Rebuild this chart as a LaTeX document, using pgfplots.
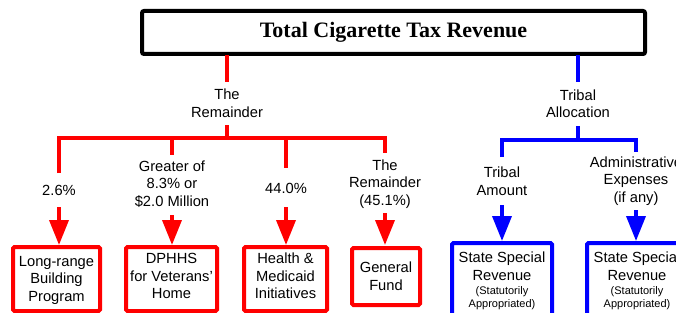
\documentclass[border=0pt]{standalone}
\usepackage{pgfplots}
\pgfplotsset{compat=1.18}
\usepackage{fontspec}
\setmainfont{Liberation Sans}
\newfontfamily\titlefont{Liberation Serif}
\usetikzlibrary{arrows.meta}
\definecolor{fred}{RGB}{255,0,0}
\definecolor{fblue}{RGB}{0,0,255}
\tikzset{lbl/.style={align=center,inner sep=0pt,font=\fontsize{14.7bp}{17.5bp}\selectfont},
  sml/.style={align=center,inner sep=0pt,font=\fontsize{11bp}{12.5bp}\selectfont}}
\begin{document}
\begin{tikzpicture}
\begin{axis}[at={(0,0)},anchor=south west,scale only axis,width=676bp,height=313bp,
  xmin=0,xmax=676,ymin=0,ymax=313,y dir=reverse,axis lines=none,clip=false]
% title box
\addplot[black,line width=4bp,rounded corners=2bp] coordinates {(142,11) (645,11) (645,54) (142,54)} --cycle;
\node[inner sep=0pt,font=\titlefont\bfseries\fontsize{22bp}{24bp}\selectfont] at (axis cs:393.5,32.5) {Total Cigarette Tax Revenue};
% red tree
\addplot[fred,line width=3.7bp] coordinates {(227,55) (227,82)};
\node[lbl] at (axis cs:227,103) {The\\Remainder};
\addplot[fred,line width=3.7bp] coordinates {(227,125) (227,138)};
\addplot[fred,line width=3.7bp,line join=miter] coordinates {(59,173) (59,138) (385,138) (385,153)};
\addplot[fred,line width=3.7bp] coordinates {(172,138) (172,155)};
\addplot[fred,line width=3.7bp] coordinates {(286,138) (286,168)};
\node[lbl] at (axis cs:59,190) {2.6\%};
\node[lbl] at (axis cs:172,184) {Greater of\\8.3\% or\\\$2.0 Million};
\node[lbl] at (axis cs:286,188) {44.0\%};
\node[lbl] at (axis cs:385,184) {The\\Remainder\\(45.1\%)};
\addplot[fred,line width=3.7bp,-{Triangle[width=19bp,length=25bp]}] coordinates {(59,207) (59,245)};
\addplot[fred,line width=3.7bp,-{Triangle[width=19bp,length=25bp]}] coordinates {(172,215) (172,245)};
\addplot[fred,line width=3.7bp,-{Triangle[width=19bp,length=25bp]}] coordinates {(286,207) (286,245)};
\addplot[fred,line width=3.7bp,-{Triangle[width=19bp,length=25bp]}] coordinates {(385,213) (385,245)};
% red boxes
\addplot[fred,line width=4bp,rounded corners=1.5bp] coordinates {(13,247) (100,247) (100,311) (13,311)} --cycle;
\addplot[fred,line width=4bp,rounded corners=1.5bp] coordinates {(126,247) (217,247) (217,311) (126,311)} --cycle;
\addplot[fred,line width=4bp,rounded corners=1.5bp] coordinates {(244,247) (327,247) (327,311) (244,311)} --cycle;
\addplot[fred,line width=4bp,rounded corners=1.5bp] coordinates {(352,248) (420,248) (420,305) (352,305)} --cycle;
\node[lbl] at (axis cs:56.5,280) {Long-range\\Building\\Program};
\node[lbl] at (axis cs:171.5,276) {DPHHS\\for Veterans'\\Home};
\node[lbl] at (axis cs:285.5,276) {Health \&\\Medicaid\\Initiatives};
\node[lbl] at (axis cs:386,276) {General\\Fund};
% blue tree
\addplot[fblue,line width=3.7bp] coordinates {(578,55) (578,82)};
\node[lbl] at (axis cs:578,103.5) {Tribal\\Allocation};
\addplot[fblue,line width=3.7bp] coordinates {(578,126) (578,140)};
\addplot[fblue,line width=3.7bp,line join=miter] coordinates {(502,157) (502,140) (636,140) (636,152)};
\node[lbl] at (axis cs:502,181) {Tribal\\Amount};
\node[lbl] at (axis cs:636,181) {Administrative\\Expenses\\(if any)};
\addplot[fblue,line width=3.7bp,-{Triangle[width=19bp,length=25bp]}] coordinates {(502,205) (502,241)};
\addplot[fblue,line width=3.7bp,-{Triangle[width=19bp,length=25bp]}] coordinates {(636,210) (636,241)};
\addplot[fblue,line width=4bp,rounded corners=1.5bp] coordinates {(452,243) (552,243) (552,320) (452,320)} --cycle;
\addplot[fblue,line width=4bp,rounded corners=1.5bp] coordinates {(587,243) (690,243) (690,320) (587,320)} --cycle;
\node[lbl] at (axis cs:502,266) {State Special\\Revenue};
\node[sml] at (axis cs:502,298) {(Statutorily\\Appropriated)};
\node[lbl] at (axis cs:637,266) {State Special\\Revenue};
\node[sml] at (axis cs:637,298) {(Statutorily\\Appropriated)};
\end{axis}
\pgfresetboundingbox
\useasboundingbox (0,0) rectangle (676bp,313bp);
\end{tikzpicture}
\end{document}
